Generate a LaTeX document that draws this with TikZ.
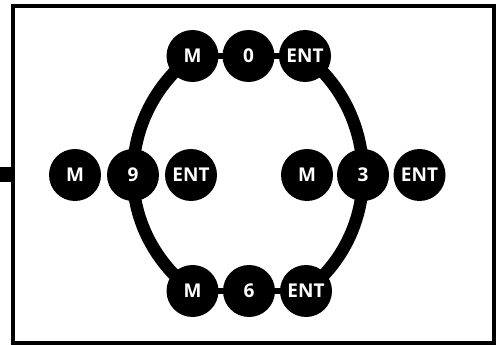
\documentclass[tikz,border=0pt]{standalone}
\usepackage{fontspec}
\setsansfont{Open Sans}
\usetikzlibrary{backgrounds}
\begin{document}
\begin{tikzpicture}[x=1pt,y=1pt,
  key/.style={circle,fill=black,text=white,minimum size=52pt,inner sep=0pt,
    font=\sffamily\bfseries\fontsize{19}{19}\selectfont},
  ring/.style={line width=12.5pt,line join=round},
  link/.style={line width=6.5pt},
  framebox/.style={line width=4pt},
  stubline/.style={line width=15pt}]
\useasboundingbox (0,0) rectangle (501,-345);
% frame
\coordinate (fa) at (13,-6);
\coordinate (fb) at (494,-343);
\draw[framebox] (fa) rectangle (fb);
\coordinate (stubl) at (0,-174.5);
\coordinate (stubr) at (13,-174.5);
\draw[stubline] (stubl) -- (stubr);
% nodes
\node[key] (Mt) at (192.5,-56) {M};
\node[key] (Z)  at (248.5,-56) {0};
\node[key] (Et) at (305,-56) {ENT};
\node[key] (Ml) at (75,-175) {M};
\node[key] (N9) at (133,-175) {9};
\node[key] (El) at (191,-175) {ENT};
\node[key] (Mr) at (307,-175) {M};
\node[key] (N3) at (363,-175) {3};
\node[key] (Er) at (419.5,-175) {ENT};
\node[key] (Mb) at (192.5,-291) {M};
\node[key] (S6) at (249,-291) {6};
\node[key] (Eb) at (306,-291) {ENT};
\begin{pgfonlayer}{background}
\draw[link] (Mt.center) -- (Z.center) -- (Et.center);
\draw[link] (Mb.center) -- (S6.center) -- (Eb.center);
\draw[ring] (Mt.center) to[out=-143,in=90,looseness=0.9] (N9.center)
  to[out=-90,in=143,looseness=0.9] (Mb.center);
\draw[ring] (Et.center) to[out=-37,in=90,looseness=0.9] (N3.center)
  to[out=-90,in=37,looseness=0.9] (Eb.center);
\end{pgfonlayer}
\end{tikzpicture}
\end{document}
